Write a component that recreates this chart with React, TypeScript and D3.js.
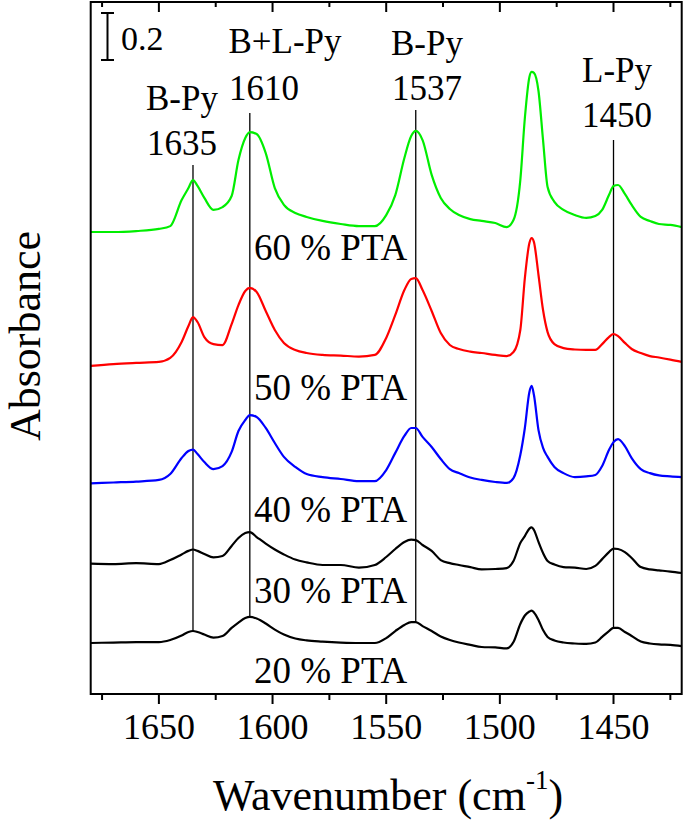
import React from "react";
import * as d3 from "d3";

const wavenumbers = [1680,1670,1660,1650,1645,1640,1637,1635,1633,1630,1626,1622,1618,1615,1612,1610,1607,1603,1599,1595,1590,1585,1578,1570,1562,1555,1550,1546,1542,1539,1537,1534,1530,1526,1522,1518,1513,1508,1502,1497,1494,1491,1489,1487,1486,1485,1483,1481,1479,1476,1472,1467,1462,1458,1455,1452,1450,1448,1445,1442,1438,1434,1430,1425,1420];

const pta60 = [1.966,1.966,1.970,1.979,1.991,2.102,2.153,2.187,2.162,2.111,2.060,2.072,2.119,2.272,2.366,2.391,2.383,2.302,2.153,2.081,2.047,2.030,2.013,2.000,1.991,1.991,2.038,2.123,2.281,2.374,2.396,2.357,2.209,2.111,2.064,2.038,2.021,2.013,2.004,1.987,2.017,2.187,2.451,2.626,2.647,2.643,2.566,2.357,2.157,2.094,2.060,2.038,2.026,2.034,2.060,2.123,2.162,2.166,2.128,2.081,2.030,2.013,2.000,1.996,1.987];

const pta50 = [1.396,1.404,1.409,1.413,1.430,1.498,1.566,1.604,1.583,1.519,1.489,1.485,1.574,1.655,1.715,1.728,1.711,1.630,1.549,1.494,1.464,1.451,1.443,1.440,1.436,1.443,1.515,1.613,1.719,1.766,1.770,1.719,1.630,1.536,1.485,1.468,1.457,1.451,1.443,1.438,1.455,1.549,1.770,1.919,1.940,1.923,1.783,1.634,1.540,1.489,1.472,1.466,1.464,1.464,1.489,1.519,1.532,1.523,1.494,1.468,1.451,1.438,1.432,1.423,1.413];

const pta40 = [0.896,0.900,0.904,0.911,0.936,1.004,1.034,1.040,1.021,0.987,0.957,0.970,1.030,1.119,1.166,1.187,1.179,1.132,1.068,1.009,0.966,0.936,0.923,0.915,0.906,0.906,0.953,1.026,1.098,1.132,1.132,1.094,1.051,1.000,0.957,0.940,0.921,0.911,0.902,0.898,0.919,1.017,1.132,1.285,1.311,1.272,1.123,1.047,1.009,0.966,0.940,0.923,0.926,0.932,0.970,1.038,1.072,1.085,1.055,1.004,0.957,0.940,0.930,0.926,0.923];

const pta30 = [0.555,0.553,0.557,0.553,0.570,0.594,0.609,0.615,0.609,0.596,0.581,0.587,0.630,0.664,0.685,0.689,0.668,0.640,0.615,0.594,0.572,0.560,0.549,0.549,0.538,0.549,0.583,0.617,0.647,0.657,0.655,0.634,0.609,0.570,0.557,0.549,0.540,0.530,0.532,0.536,0.566,0.643,0.672,0.704,0.709,0.698,0.647,0.600,0.566,0.551,0.540,0.538,0.532,0.545,0.574,0.604,0.619,0.617,0.604,0.579,0.540,0.530,0.526,0.521,0.515];

const pta20 = [0.217,0.219,0.221,0.221,0.230,0.249,0.264,0.268,0.264,0.253,0.240,0.247,0.281,0.304,0.323,0.328,0.321,0.300,0.274,0.253,0.236,0.228,0.223,0.219,0.217,0.217,0.238,0.268,0.294,0.306,0.306,0.289,0.268,0.245,0.230,0.219,0.209,0.200,0.198,0.194,0.221,0.298,0.334,0.351,0.355,0.347,0.315,0.272,0.243,0.228,0.219,0.215,0.213,0.219,0.243,0.268,0.281,0.281,0.264,0.247,0.223,0.215,0.211,0.209,0.204];

const seriesNames = ["60 % PTA", "50 % PTA", "40 % PTA", "30 % PTA", "20 % PTA"];
const seriesValues = [pta60, pta50, pta40, pta30, pta20];
const seriesColors = ["#00ee00", "#ff0000", "#0000ff", "#000000", "#000000"];
const seriesLabelBaselines = [260, 400, 522, 603, 683];

const majorTicks = [1650, 1600, 1550, 1500, 1450];
const minorTicks = [1675, 1625, 1575, 1525, 1475, 1425];

const peakWavenumbers = [1635, 1610, 1537, 1450];
const peakNames = ["B-Py", "B+L-Py", "B-Py", "L-Py"];
const peakNameBaselines = [110, 53, 55, 82];
const peakNumBaselines = [155, 100, 100, 127];
const peakLineTops = [165, 113, 110, 140];
const peakNameCenters = [182, 285, 427, 617];
const peakNumCenters = [182, 264, 427, 617];

const scaleBarValue = 0.2;

const FONT = "'Liberation Serif', 'Times New Roman', Times, serif";

export default function App() {
  const W = 685, H = 825;
  const left = 90.7, right = 681.7, top = 2, bottom = 694;
  const x = d3.scaleLinear().domain([1680, 1420]).range([left, right]);
  const y = d3.scaleLinear().domain([0, (bottom - top) / 235]).range([bottom, top]);

  const line = d3
    .line<[number, number]>()
    .x((d) => x(d[0]))
    .y((d) => y(d[1]))
    .curve(d3.curveMonotoneX);

  const interp = (vals: number[], wn: number) => {
    for (let i = 0; i < wavenumbers.length - 1; i++) {
      const a = wavenumbers[i], b = wavenumbers[i + 1];
      if (wn <= a && wn >= b) {
        const t = (a - wn) / (a - b);
        return vals[i] + t * (vals[i + 1] - vals[i]);
      }
    }
    return vals[vals.length - 1];
  };

  const barH = y(0) - y(scaleBarValue);
  const barTop = 13;

  return (
    <svg
      width={W}
      height={H}
      style={{ position: "absolute", left: 0, top: 0, background: "#fff" }}
      fontFamily={FONT}
    >
      <rect x={0} y={0} width={W} height={H} fill="#fff" />
      {peakWavenumbers.map((wn, i) => (
        <line
          key={"pl" + i}
          x1={x(wn)}
          x2={x(wn)}
          y1={peakLineTops[i]}
          y2={y(interp(pta20, wn))}
          stroke="#000"
          strokeWidth={1.3}
        />
      ))}
      <g fill="none" strokeWidth={2.2} strokeLinejoin="round">
        {seriesValues.map((vals, i) => (
          <path
            key={"s" + i}
            d={line(wavenumbers.map((w, j) => [w, vals[j]] as [number, number])) || ""}
            stroke={seriesColors[i]}
          />
        ))}
      </g>
      {seriesNames.map((n, i) => (
        <text key={"sl" + i} x={254} y={seriesLabelBaselines[i]} fontSize={37} fill="#000">
          {n}
        </text>
      ))}
      {peakWavenumbers.map((wn, i) => (
        <g key={"lab" + i}>
          <text x={peakNameCenters[i]} y={peakNameBaselines[i]} fontSize={35} textAnchor="middle">
            {peakNames[i]}
          </text>
          <text x={peakNumCenters[i]} y={peakNumBaselines[i]} fontSize={35} textAnchor="middle">
            {wn}
          </text>
        </g>
      ))}
      <g stroke="#000" strokeWidth={2}>
        <line x1={107.5} x2={107.5} y1={barTop} y2={barTop + barH} />
        <line x1={101} x2={114} y1={barTop} y2={barTop} />
        <line x1={101} x2={114} y1={barTop + barH} y2={barTop + barH} />
      </g>
      <text x={121} y={50} fontSize={34}>
        {scaleBarValue}
      </text>
      <rect x={left} y={top} width={right - left} height={bottom - top} fill="none" stroke="#000" strokeWidth={2} />
      <g stroke="#000" strokeWidth={2}>
        {majorTicks.map((t) => (
          <g key={"mt" + t}>
            <line x1={x(t)} x2={x(t)} y1={bottom} y2={bottom + 10} />
            <line x1={x(t)} x2={x(t)} y1={top} y2={top + 10} />
          </g>
        ))}
        {minorTicks.map((t) => (
          <g key={"nt" + t}>
            <line x1={x(t)} x2={x(t)} y1={bottom} y2={bottom + 6} />
            <line x1={x(t)} x2={x(t)} y1={top} y2={top + 5} />
          </g>
        ))}
      </g>
      {majorTicks.map((t) => (
        <text key={"tl" + t} x={x(t)} y={739} fontSize={36} textAnchor="middle">
          {t}
        </text>
      ))}
      <text x={213} y={810} fontSize={44}>
        Wavenumber (cm
        <tspan fontSize={27} dy={-21}>-1</tspan>
        <tspan dy={21}>)</tspan>
      </text>
      <text transform="translate(39.5,336) rotate(-90)" fontSize={44} textAnchor="middle">
        Absorbance
      </text>
    </svg>
  );
}
